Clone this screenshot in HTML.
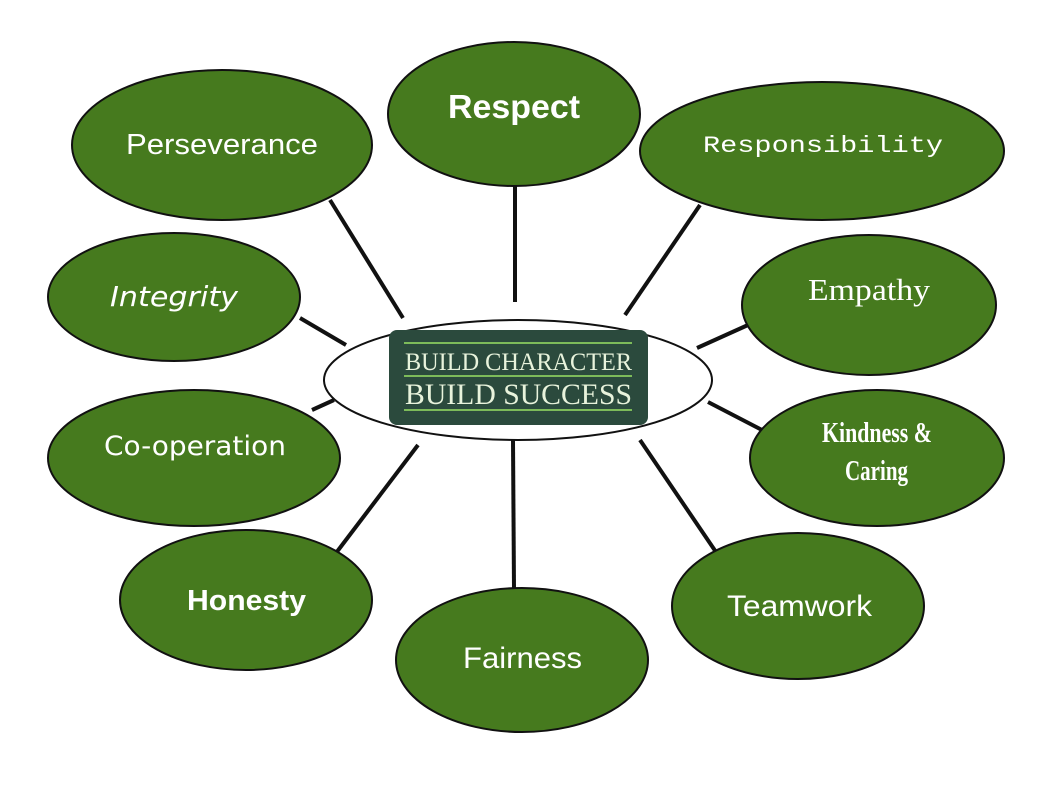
<!DOCTYPE html>
<html><head><style>body{margin:0;background:#fff}svg{display:block}</style></head><body>
<svg width="1042" height="800" xmlns="http://www.w3.org/2000/svg">
<g stroke="#111" stroke-width="4">
<line x1="515" y1="185" x2="515" y2="302"/>
<line x1="330" y1="200" x2="403" y2="318"/>
<line x1="700" y1="205" x2="625" y2="315"/>
<line x1="300" y1="318" x2="346" y2="345"/>
<line x1="748" y1="325" x2="697" y2="348"/>
<line x1="312" y1="410" x2="334" y2="400"/>
<line x1="762" y1="430" x2="708" y2="402"/>
<line x1="333" y1="557" x2="418" y2="445"/>
<line x1="718" y1="555" x2="640" y2="440"/>
<line x1="514" y1="590" x2="513" y2="440"/>
</g>
<g fill="#467a1e" stroke="#111" stroke-width="2">
<ellipse cx="514" cy="114" rx="126" ry="72"/>
<ellipse cx="222" cy="145" rx="150" ry="75"/>
<ellipse cx="822" cy="151" rx="182" ry="69"/>
<ellipse cx="174" cy="297" rx="126" ry="64"/>
<ellipse cx="869" cy="305" rx="127" ry="70"/>
<ellipse cx="194" cy="458" rx="146" ry="68"/>
<ellipse cx="877" cy="458" rx="127" ry="68"/>
<ellipse cx="246" cy="600" rx="126" ry="70"/>
<ellipse cx="798" cy="606" rx="126" ry="73"/>
<ellipse cx="522" cy="660" rx="126" ry="72"/>
</g>
<ellipse cx="518" cy="380" rx="194" ry="60" fill="#fff" stroke="#111" stroke-width="2"/>
<rect x="389" y="330" width="259" height="95" rx="8" fill="#2b4a3d"/>
<g stroke="#7dbb5a" stroke-width="2"><line x1="404" y1="343" x2="632" y2="343"/><line x1="404" y1="376" x2="632" y2="376"/><line x1="404" y1="410" x2="632" y2="410"/></g>
<g fill="#e8f3dc" font-family="Liberation Serif, serif">
<text x="405" y="370" font-size="25" textLength="227" lengthAdjust="spacingAndGlyphs">BUILD CHARACTER</text>
<text x="405" y="404" font-size="30" textLength="227" lengthAdjust="spacingAndGlyphs">BUILD SUCCESS</text>
</g>
<g fill="#fff" font-family="Liberation Sans, sans-serif">
<text x="448" y="118" font-size="33" font-weight="bold" textLength="132" lengthAdjust="spacingAndGlyphs">Respect</text>
<text x="126" y="154" font-size="29" textLength="192" lengthAdjust="spacingAndGlyphs">Perseverance</text>
<text x="703" y="152" font-size="23" font-family="Liberation Mono, monospace" textLength="240" lengthAdjust="spacingAndGlyphs">Responsibility</text>
<text x="110" y="306" font-size="28" font-family="DejaVu Sans, sans-serif" font-style="italic" textLength="128" lengthAdjust="spacingAndGlyphs">Integrity</text>
<text x="808" y="300" font-size="31" font-family="Liberation Serif, serif" textLength="122" lengthAdjust="spacingAndGlyphs">Empathy</text>
<text x="104" y="455" font-size="27" font-family="DejaVu Sans, sans-serif" textLength="182" lengthAdjust="spacingAndGlyphs">Co-operation</text>
<text x="822" y="442" font-size="28" font-family="Liberation Serif, serif" font-weight="bold" textLength="110" lengthAdjust="spacingAndGlyphs">Kindness &amp;</text>
<text x="845" y="480" font-size="28" font-family="Liberation Serif, serif" font-weight="bold" textLength="63" lengthAdjust="spacingAndGlyphs">Caring</text>
<text x="187" y="610" font-size="29" font-weight="bold" textLength="119" lengthAdjust="spacingAndGlyphs">Honesty</text>
<text x="727" y="616" font-size="30" textLength="145" lengthAdjust="spacingAndGlyphs">Teamwork</text>
<text x="463" y="668" font-size="30" textLength="119" lengthAdjust="spacingAndGlyphs">Fairness</text>
</g>
</svg>
</body></html>
